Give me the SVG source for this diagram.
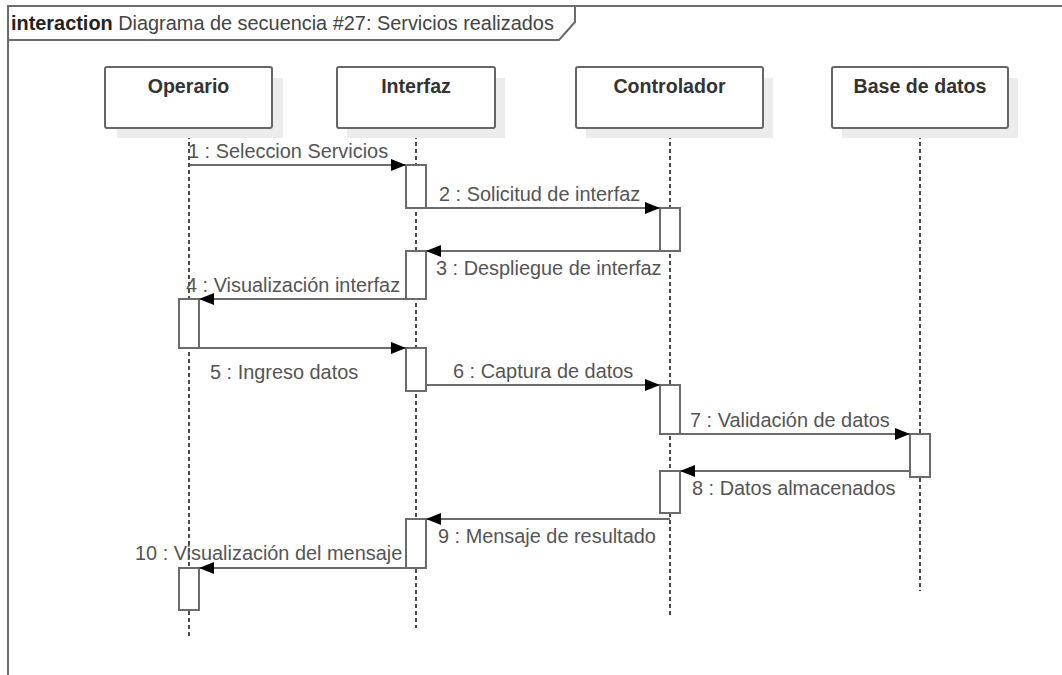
<svg xmlns="http://www.w3.org/2000/svg" width="1062" height="675" viewBox="0 0 1062 675">
<style>
.frame{fill:none;stroke:#6b6b6b;stroke-width:2}
.box{fill:#fff;stroke:#666;stroke-width:2}
.shadow{fill:#ececec;stroke:none}
.life{stroke:#111;stroke-width:1.5;stroke-dasharray:4 3;fill:none}
.act{fill:#fff;stroke:#6b6b6b;stroke-width:2}
.msg{stroke:#6b6b6b;stroke-width:2;fill:none;marker-end:url(#ah)}
.lbl{font-family:"Liberation Sans",Arial,sans-serif;font-size:19.9px;fill:#555}
.name{font-family:"Liberation Sans",Arial,sans-serif;font-size:19.6px;font-weight:bold;fill:#333;text-anchor:middle}
.title{font-family:"Liberation Sans",Arial,sans-serif;font-size:19.9px;fill:#444}
</style>
<defs>
<marker id="ah" viewBox="0 0 15 12" refX="15" refY="6" markerWidth="15" markerHeight="12" orient="auto" markerUnits="userSpaceOnUse">
<path d="M0,0 L15,6 L0,12 z" fill="#000"/>
</marker>
</defs>
<rect width="1062" height="675" fill="#fff"/>
<g id="frame">
<path class="frame" d="M8,675 L8,6 L1062,6"/>
<path class="frame" d="M8,40 L559,40 L575,22 L575,6"/>
<text class="title" x="11" y="30"><tspan font-weight="bold" fill="#222">interaction</tspan> Diagrama de secuencia #27: Servicios realizados</text>
</g>
<g id="lifelines">
<line class="life" x1="189" y1="128" x2="189" y2="636"/>
<line class="life" x1="416" y1="128" x2="416" y2="628"/>
<line class="life" x1="670" y1="128" x2="670" y2="618"/>
<line class="life" x1="920" y1="128" x2="920" y2="591"/>
</g>
<g id="operario">
<rect class="shadow" x="117" y="78" width="166" height="60"/>
<rect class="box" x="105" y="67" width="167" height="61" rx="2"/>
<text class="name" x="188.5" y="93">Operario</text>
</g>
<g id="interfaz">
<rect class="shadow" x="347" y="78" width="158" height="60"/>
<rect class="box" x="337" y="67" width="158" height="61" rx="2"/>
<text class="name" x="416" y="93">Interfaz</text>
</g>
<g id="controlador">
<rect class="shadow" x="586" y="78" width="187" height="60"/>
<rect class="box" x="576" y="67" width="187" height="61" rx="2"/>
<text class="name" x="669.5" y="93">Controlador</text>
</g>
<g id="basededatos">
<rect class="shadow" x="842" y="78" width="176" height="60"/>
<rect class="box" x="832" y="67" width="176" height="61" rx="2"/>
<text class="name" x="920" y="93">Base de datos</text>
</g>
<g id="activations">
<rect class="act" x="406" y="165" width="20" height="43"/>
<rect class="act" x="406" y="251" width="20" height="48"/>
<rect class="act" x="406" y="348" width="20" height="43"/>
<rect class="act" x="406" y="519" width="20" height="49"/>
<rect class="act" x="660" y="208" width="20" height="43"/>
<rect class="act" x="660" y="385" width="20" height="49"/>
<rect class="act" x="660" y="471" width="20" height="42"/>
<rect class="act" x="910" y="434" width="20" height="43"/>
<rect class="act" x="179" y="299" width="20" height="49"/>
<rect class="act" x="179" y="568" width="20" height="42"/>
</g>
<g id="connectors">
<line class="msg" x1="190" y1="165" x2="406" y2="165"/>
<line class="msg" x1="426" y1="208" x2="660" y2="208"/>
<line class="msg" x1="660" y1="251" x2="426" y2="251"/>
<line class="msg" x1="406" y1="299" x2="199" y2="299"/>
<line class="msg" x1="199" y1="348" x2="406" y2="348"/>
<line class="msg" x1="426" y1="385" x2="660" y2="385"/>
<line class="msg" x1="680" y1="434" x2="910" y2="434"/>
<line class="msg" x1="910" y1="471" x2="680" y2="471"/>
<line class="msg" x1="670" y1="519" x2="426" y2="519"/>
<line class="msg" x1="406" y1="568" x2="199" y2="568"/>
</g>
<g id="labels">
<text class="lbl" x="188" y="158">1 : Seleccion Servicios</text>
<text class="lbl" x="439" y="201">2 : Solicitud de interfaz</text>
<text class="lbl" x="436" y="275">3 : Despliegue de interfaz</text>
<text class="lbl" x="186" y="292">4 : Visualización interfaz</text>
<text class="lbl" x="210" y="379">5 : Ingreso datos</text>
<text class="lbl" x="453" y="378">6 : Captura de datos</text>
<text class="lbl" x="690" y="427">7 : Validación de datos</text>
<text class="lbl" x="692" y="495">8 : Datos almacenados</text>
<text class="lbl" x="438" y="543">9 : Mensaje de resultado</text>
<text class="lbl" x="135" y="560">10 : Visualización del mensaje</text>
</g>
</svg>
